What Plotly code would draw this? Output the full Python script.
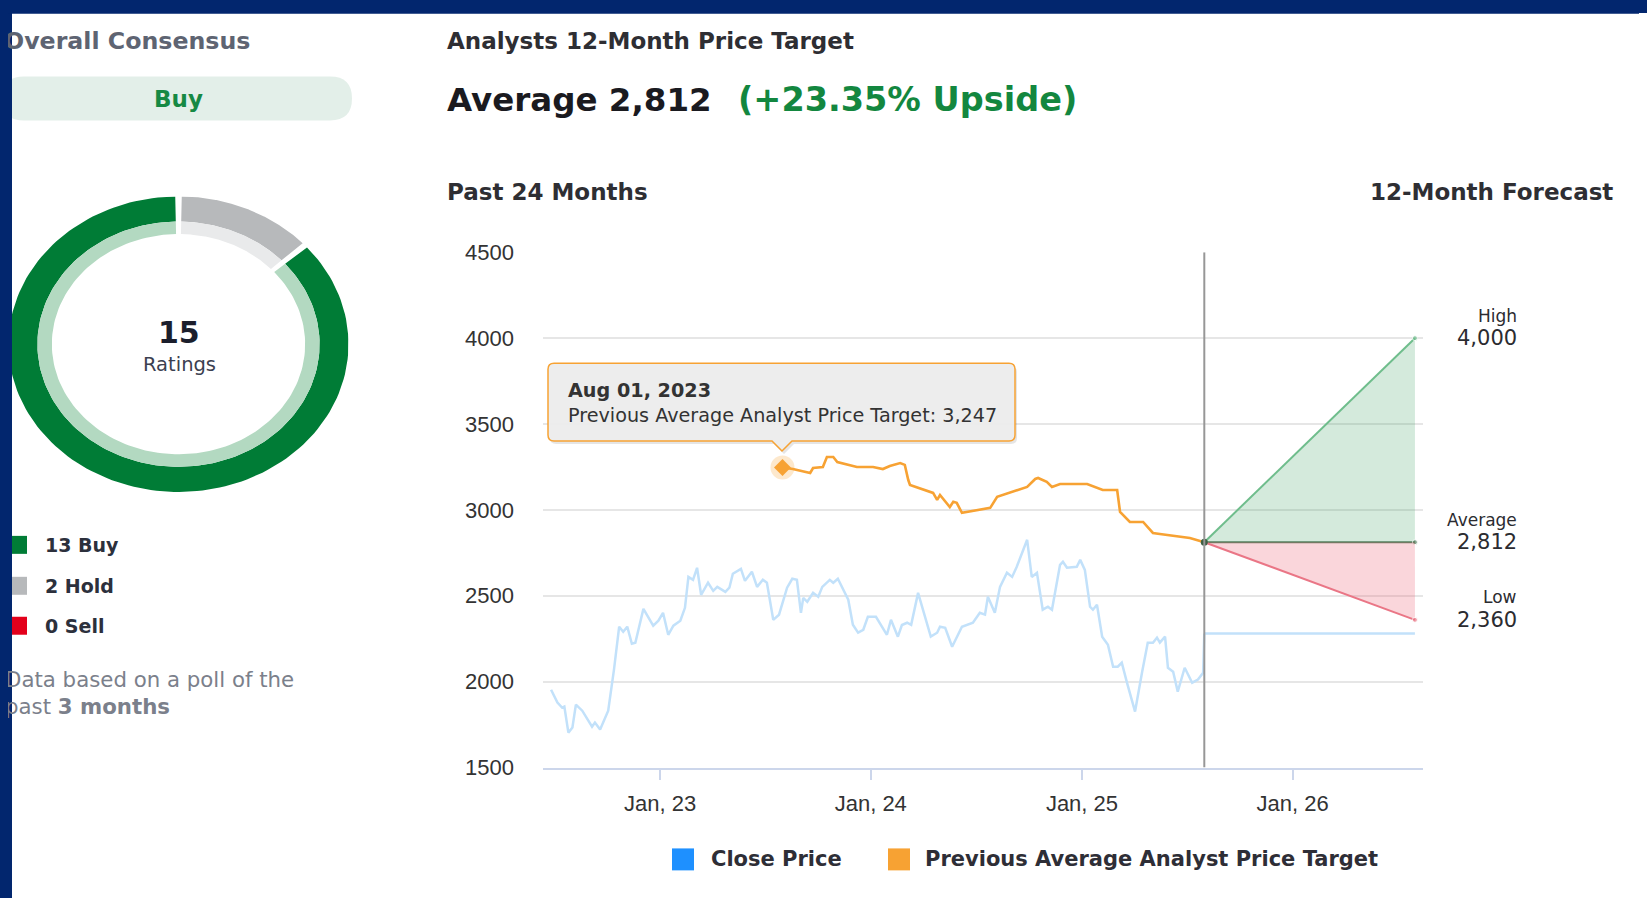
import numpy as np
import plotly.graph_objects as go
from datetime import datetime

PAGE_W, PAGE_H = 1647, 898
OFF = 8  # browser body margin
W, H = PAGE_W - 2 * OFF, PAGE_H - 2 * OFF
# vertical calibration of the photographed page (photo_y = Y0 + K * page_y)
Y0, K = 11.57, 0.9731

# ---------------- data ----------------
close_dates = [
    "2022-06-26", "2022-07-07", "2022-07-15", "2022-07-19", "2022-07-26", "2022-08-02",
    "2022-08-08", "2022-08-19", "2022-09-05", "2022-09-10", "2022-09-19", "2022-10-03",
    "2022-10-13", "2022-10-22", "2022-10-29", "2022-11-05", "2022-11-13", "2022-11-19",
    "2022-12-03", "2022-12-20", "2022-12-29", "2023-01-06", "2023-01-15", "2023-01-24",
    "2023-02-05", "2023-02-13", "2023-02-19", "2023-02-27", "2023-03-06", "2023-03-13",
    "2023-03-25", "2023-04-03", "2023-04-10", "2023-04-24", "2023-05-01", "2023-05-07",
    "2023-05-21", "2023-05-28", "2023-06-09", "2023-06-18", "2023-06-28", "2023-07-05",
    "2023-07-16", "2023-07-26", "2023-08-09", "2023-08-18", "2023-08-26", "2023-09-02",
    "2023-09-06", "2023-09-13", "2023-09-23", "2023-10-02", "2023-10-09", "2023-10-22",
    "2023-10-28", "2023-11-05", "2023-11-23", "2023-12-01", "2023-12-10", "2023-12-19",
    "2023-12-27", "2024-01-10", "2024-01-29", "2024-02-05", "2024-02-17", "2024-02-24",
    "2024-03-04", "2024-03-11", "2024-03-23", "2024-04-14", "2024-04-25", "2024-04-30",
    "2024-05-09", "2024-05-21", "2024-06-07", "2024-06-26", "2024-07-08", "2024-07-17",
    "2024-07-22", "2024-08-03", "2024-08-12", "2024-08-24", "2024-09-02", "2024-09-10",
    "2024-09-28", "2024-10-06", "2024-10-15", "2024-10-25", "2024-11-03", "2024-11-10",
    "2024-11-24", "2024-11-29", "2024-12-06", "2024-12-23", "2024-12-29", "2025-01-06",
    "2025-01-15", "2025-01-20", "2025-01-27", "2025-02-05", "2025-02-15", "2025-02-24",
    "2025-03-04", "2025-03-11", "2025-03-20", "2025-04-03", "2025-04-15", "2025-04-25",
    "2025-05-04", "2025-05-11", "2025-05-16", "2025-05-25", "2025-05-30", "2025-06-08",
    "2025-06-16", "2025-06-28", "2025-07-11", "2025-07-21", "2025-07-30", "2025-08-01",
]
close_vals = [
    1953, 1878, 1849, 1855, 1703, 1733,
    1866, 1831, 1738, 1762, 1721, 1831,
    2070, 2320, 2291, 2320, 2221, 2227,
    2424, 2326, 2355, 2401, 2273, 2326,
    2355, 2430, 2610, 2593, 2663, 2506,
    2576, 2529, 2552, 2523, 2547, 2628,
    2657, 2587, 2640, 2552, 2593, 2576,
    2360, 2390, 2547, 2599, 2593, 2401,
    2488, 2465, 2517, 2494, 2552, 2593,
    2576, 2599, 2477, 2331, 2285, 2302,
    2378, 2378, 2273, 2360, 2262, 2330,
    2343, 2331, 2517, 2262, 2285, 2320,
    2314, 2203, 2320, 2343, 2401, 2390,
    2494, 2401, 2552, 2634, 2610, 2669,
    2826, 2610, 2634, 2419, 2436, 2419,
    2680, 2698, 2663, 2669, 2709, 2651,
    2436, 2419, 2448, 2262, 2215, 2087,
    2087, 2110, 1994, 1826, 2052, 2227,
    2227, 2256, 2227, 2262, 2081, 2058,
    1942, 2081, 1994, 2012, 2052, 2280,
]

target_dates = [
    "2023-08-01", "2023-08-19", "2023-09-18", "2023-09-23", "2023-10-10", "2023-10-17",
    "2023-10-28", "2023-11-04", "2023-12-08", "2024-01-05", "2024-01-22", "2024-02-03",
    "2024-02-21", "2024-02-29", "2024-03-06", "2024-03-09", "2024-04-18", "2024-04-25",
    "2024-04-30", "2024-05-17", "2024-05-23", "2024-05-29", "2024-06-07", "2024-07-26",
    "2024-08-07", "2024-09-28", "2024-10-12", "2024-10-17", "2024-11-01", "2024-11-10",
    "2024-11-24", "2025-01-10", "2025-02-06", "2025-03-03", "2025-03-08", "2025-03-25",
    "2025-04-17", "2025-05-04", "2025-05-16", "2025-07-07", "2025-08-01",
]
target_vals = [
    3247, 3238, 3215, 3244, 3250, 3308,
    3308, 3279, 3250, 3250, 3238, 3256,
    3273, 3262, 3174, 3145, 3099, 3058,
    3087, 3017, 3047, 3041, 2983, 3012,
    3076, 3134, 3180, 3186, 3163, 3134,
    3151, 3151, 3116, 3116, 2988, 2930,
    2930, 2866, 2860, 2837, 2812,
]

forecast_dates = ["2025-08-01", "2026-08-01"]
forecast_high = 4000
forecast_avg = 2812
forecast_low = 2360
current_price = 2280
upside_pct = 23.35

rating_names = ["Buy", "Hold", "Sell"]
rating_counts = [13, 2, 0]

y_ticks = [1500, 2000, 2500, 3000, 3500, 4000, 4500]
x_tick_dates = ["2023-01-01", "2024-01-01", "2025-01-01", "2026-01-01"]
x_range = ["2022-06-12", "2026-08-15"]

# ---------------- style ----------------
NAVY = "#02266e"
BLUE = "#c2e1fa"
ORANGE = "#f7a233"
DJ = "DejaVu Sans"
ARIAL = "Liberation Sans"


def px(x):
    """target pixel x -> paper fraction"""
    return (x - OFF) / W


def py(y):
    """target pixel y -> paper fraction"""
    page_y = (y - Y0) / K
    return 1 - (page_y - OFF) / H


def dy(d):
    """target pixel distance -> layout pixel distance (vertical)"""
    return d / K


def rounded_path(x0, y0, x1, y1, r, pointer=None):
    """rounded rectangle (target pixels) as a paper path; optional pointer (cx, size) at bottom"""
    seg = [f"M {px(x0 + r)},{py(y0)}", f"L {px(x1 - r)},{py(y0)}",
           f"Q {px(x1)},{py(y0)} {px(x1)},{py(y0 + r)}", f"L {px(x1)},{py(y1 - r)}",
           f"Q {px(x1)},{py(y1)} {px(x1 - r)},{py(y1)}"]
    if pointer:
        cx, s = pointer
        seg += [f"L {px(cx + s)},{py(y1)}", f"L {px(cx)},{py(y1 + s)}", f"L {px(cx - s)},{py(y1)}"]
    seg += [f"L {px(x0 + r)},{py(y1)}", f"Q {px(x0)},{py(y1)} {px(x0)},{py(y1 - r)}",
            f"L {px(x0)},{py(y0 + r)}", f"Q {px(x0)},{py(y0)} {px(x0 + r)},{py(y0)} Z"]
    return " ".join(seg)


fig = go.Figure()

# ---- price chart ----
fig.add_trace(go.Scatter(x=close_dates, y=close_vals, mode="lines",
                         line=dict(color=BLUE, width=2.5), hoverinfo="skip"))
fig.add_trace(go.Scatter(x=forecast_dates, y=[current_price] * 2, mode="lines",
                         line=dict(color=BLUE, width=2.5), hoverinfo="skip"))

# forecast cone
fig.add_trace(go.Scatter(x=forecast_dates, y=[forecast_avg, forecast_avg], mode="lines+markers",
                         line=dict(color="#55805f", width=2), marker=dict(size=[0, 5], color="#55805f"),
                         hoverinfo="skip"))
fig.add_trace(go.Scatter(x=forecast_dates, y=[forecast_avg, forecast_high], mode="lines+markers",
                         line=dict(color="#6fbd8c", width=2), marker=dict(size=[0, 5], color="#6fbd8c"),
                         fill="tonexty", fillcolor="rgba(40,150,80,0.20)", hoverinfo="skip"))
fig.add_trace(go.Scatter(x=forecast_dates, y=[forecast_avg, forecast_avg], mode="lines",
                         line=dict(color="rgba(0,0,0,0)", width=0), hoverinfo="skip"))
fig.add_trace(go.Scatter(x=forecast_dates, y=[forecast_avg, forecast_low], mode="lines+markers",
                         line=dict(color="#ea7686", width=2), marker=dict(size=[0, 5], color="#ea7686"),
                         fill="tonexty", fillcolor="rgba(235,90,110,0.25)", hoverinfo="skip"))

fig.add_trace(go.Scatter(x=target_dates, y=target_vals, mode="lines",
                         line=dict(color=ORANGE, width=2.6), hoverinfo="skip"))
fig.add_trace(go.Scatter(x=[forecast_dates[0]], y=[forecast_avg], mode="markers",
                         marker=dict(size=7, color="#3f5f45"), hoverinfo="skip"))
# hovered point
fig.add_trace(go.Scatter(x=[target_dates[0]], y=[target_vals[0]], mode="markers",
                         marker=dict(size=24, color="rgba(247,162,51,0.25)"), hoverinfo="skip"))
fig.add_trace(go.Scatter(x=[target_dates[0]], y=[target_vals[0]], mode="markers",
                         marker=dict(size=13, symbol="diamond", color=ORANGE), hoverinfo="skip"))

# ---- donut ----
dark_cols = {"Buy": "#007c36", "Hold": "#b7b9bb", "Sell": "#e3001b"}
light_cols = {"Buy": "#b3d9c1", "Hold": "#e9eaeb", "Sell": "#f6b3bb"}
total = sum(rating_counts)
draw_order = [1, 0, 2]  # clockwise from 12 o'clock
angle = 0.0
gap = 1.1
for i in draw_order:
    span = 360.0 * rating_counts[i] / total
    if span <= 0:
        continue
    th = np.radians(np.linspace(angle + gap, angle + span - gap, 160))
    name = rating_names[i]
    for r_in, r_out, col in [(0.83, 1.0, dark_cols[name]), (0.745, 0.83, light_cols[name])]:
        xs = np.concatenate([r_out * np.sin(th), r_in * np.sin(th[::-1])])
        ys = np.concatenate([r_out * np.cos(th), r_in * np.cos(th[::-1])])
        fig.add_trace(go.Scatter(x=xs, y=ys, mode="lines", fill="toself", fillcolor=col,
                                 line=dict(width=0, color=col), xaxis="x2", yaxis="y2",
                                 hoverinfo="skip"))
    angle += span

# ---------------- layout ----------------
shapes = []
ann = []

# vertical "today" line
shapes.append(dict(type="line", xref="x", yref="y", x0=forecast_dates[0], x1=forecast_dates[0],
                   y0=y_ticks[0], y1=y_ticks[-1], line=dict(color="#979797", width=2), layer="above"))

# Buy pill
shapes.append(dict(type="path", xref="paper", yref="paper", path=rounded_path(2, 76, 352, 120, 22),
                   fillcolor="#e3efe9", line=dict(width=0), layer="below"))


def text(x, y, s, size, color, family=DJ, weight=400, anchor="left"):
    ann.append(dict(x=px(x), y=py(y), xref="paper", yref="paper", text=s, showarrow=False,
                    xanchor=anchor, yanchor="middle",
                    font=dict(family=family, size=size, color=color, weight=weight)))


text(2, 40, "Overall Consensus", 23.7, "#5e6472", weight=700)
text(178, 98, rating_names[0], 23, "#168944", weight=700, anchor="center")
text(179, 332, f"{total}", 30, "#1b1e2c", weight=700, anchor="center")
text(179, 364, "Ratings", 19.5, "#3b4050", anchor="center")

leg_y = [545, 586, 626]
for name, cnt, yy in zip(rating_names, rating_counts, leg_y):
    shapes.append(dict(type="rect", xref="paper", yref="paper", x0=px(8), x1=px(27),
                       y0=py(yy - 9), y1=py(yy + 9), fillcolor=dark_cols[name],
                       line=dict(width=0)))
    text(43, yy, f"{cnt} {name}", 19, "#2c303c", weight=700)

text(3, 680, "Data based on a poll of the", 21.3, "#7b808b")
text(3, 707, "past <b>3 months</b>", 21.3, "#7b808b")

text(445, 40, "Analysts 12-Month Price Target", 23, "#2e2e33", weight=700)
text(445, 99, f"Average {forecast_avg:,}", 32.5, "#1a1a1f", weight=700)
text(736, 99, f"(+{upside_pct:.2f}% Upside)", 33.5, "#13873f", weight=700)
text(445, 192, "Past 24 Months", 23, "#2e2e33", weight=700)
text(1615, 192, "12-Month Forecast", 23, "#2e2e33", weight=700, anchor="right")

# forecast labels
for lab, val in [("High", forecast_high), ("Average", forecast_avg), ("Low", forecast_low)]:
    ann.append(dict(x=px(1519), y=val, xref="paper", yref="y", text=f"{val:,}", showarrow=False,
                    xanchor="right", yanchor="middle",
                    font=dict(family=DJ, size=21, color="#2b2b30")))
    ann.append(dict(x=px(1519), y=val, xref="paper", yref="y", text=lab, showarrow=False,
                    xanchor="right", yanchor="middle", yshift=dy(22),
                    font=dict(family=DJ, size=17, color="#2b2b30")))

# tooltip (rounded box with pointer, soft shadow)
tip_date = datetime.strptime(target_dates[0], "%Y-%m-%d").strftime("%b %d, %Y")
tx0, ty0, tx1, ty1 = 548, 363, 1015, 441
shapes.append(dict(type="path", xref="paper", yref="paper",
                   path=rounded_path(tx0 + 2, ty0 + 3, tx1 + 2, ty1 + 3, 6, pointer=(784, 10)),
                   fillcolor="rgba(0,0,0,0.10)", line=dict(width=0), layer="above"))
shapes.append(dict(type="path", xref="paper", yref="paper",
                   path=rounded_path(tx0, ty0, tx1, ty1, 6, pointer=(782, 10)),
                   fillcolor="rgba(236,236,236,0.97)", line=dict(color=ORANGE, width=1.5), layer="above"))
text(566, 390, f"<b>{tip_date}</b>", 19.2, "#333333")
text(566, 415, f"Previous Average Analyst Price Target: {target_vals[0]:,}", 19.2, "#333333")

# chart legend
for col, label, xs, xt in [("#1e90ff", "Close Price", 672, 709),
                           (ORANGE, "Previous Average Analyst Price Target", 888, 923)]:
    shapes.append(dict(type="rect", xref="paper", yref="paper", x0=px(xs), x1=px(xs + 22),
                       y0=py(871), y1=py(849), fillcolor=col, line=dict(width=0)))
    text(xt, 860, label, 21, "#2e2e36", weight=700)

# navy frame (inside the figure; the page margin is painted by the page background)
shapes.append(dict(type="rect", xref="paper", yref="paper", x0=-0.01, x1=px(12), y0=-0.05, y1=1.05,
                   fillcolor=NAVY, line=dict(width=0), layer="above"))
shapes.append(dict(type="rect", xref="paper", yref="paper", x0=-0.01, x1=1.01, y0=py(13), y1=1.05,
                   fillcolor=NAVY, line=dict(width=0), layer="above"))

fig.update_layout(
    width=W, height=H, margin=dict(l=0, r=0, t=0, b=0),
    paper_bgcolor="white", plot_bgcolor="white", showlegend=False,
    shapes=shapes, annotations=ann,
    xaxis=dict(type="date", range=x_range, domain=[px(543), px(1423)],
               showgrid=False, zeroline=False, showline=True, linecolor="#ccd6eb", linewidth=1.5,
               ticks="outside", ticklen=dy(10), tickwidth=1.5, tickcolor="#ccd6eb",
               tickvals=x_tick_dates, tickformat="%b, %y", ticklabelstandoff=5,
               tickfont=dict(family=ARIAL, size=22, color="#333333"), fixedrange=True),
    yaxis=dict(range=[y_ticks[0], y_ticks[-1]], domain=[py(768), py(252)],
               tickvals=y_ticks, tickformat="d", showgrid=True, gridcolor="#e6e6e6", gridwidth=1.5,
               zeroline=False, showline=False, ticks="", ticklabelstandoff=28,
               tickfont=dict(family=ARIAL, size=22, color="#333333"), fixedrange=True),
    xaxis2=dict(domain=[px(8.5), px(348.5)], range=[-1, 1], visible=False, fixedrange=True),
    yaxis2=dict(domain=[py(492), py(196)], range=[-1, 1], visible=False, fixedrange=True),
)

bg = ("linear-gradient(#02266e,#02266e) 0 0/100% 13px no-repeat,"
      "linear-gradient(#02266e,#02266e) 0 0/12px 100% no-repeat,#ffffff")
fig.write_html("out.html", config={"displayModeBar": False},
               post_script=f"document.body.style.background='{bg}';")
